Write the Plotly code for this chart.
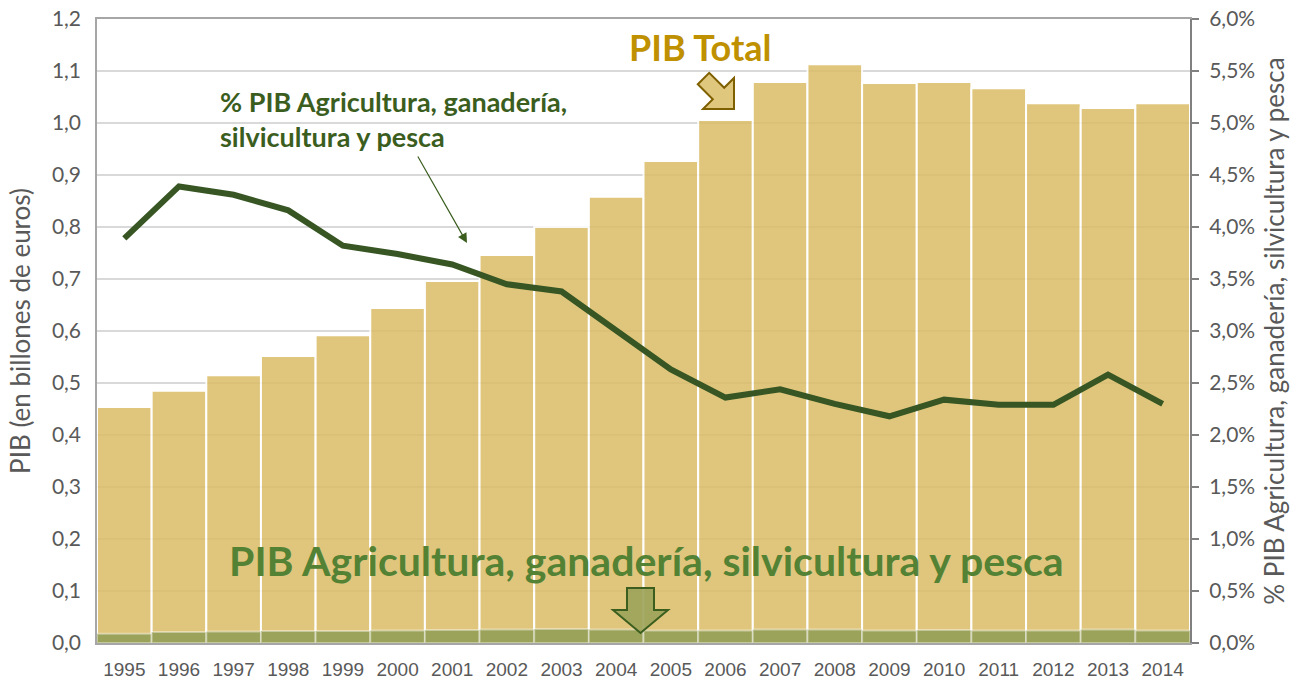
import plotly.graph_objects as go

years = list(range(1995, 2015))
pib_total = [0.454, 0.485, 0.515, 0.552, 0.592, 0.644, 0.696, 0.746, 0.800, 0.858,
             0.927, 1.006, 1.079, 1.113, 1.077, 1.079, 1.067, 1.038, 1.029, 1.038]
pib_agri = [0.018, 0.021, 0.022, 0.023, 0.023, 0.024, 0.025, 0.026, 0.027, 0.026,
            0.024, 0.024, 0.026, 0.026, 0.024, 0.025, 0.024, 0.024, 0.026, 0.024]
pct_agri = [0.0389, 0.0439, 0.0431, 0.0416, 0.0382, 0.0374, 0.0364, 0.0345, 0.0338, 0.0301,
            0.0263, 0.0236, 0.0244, 0.0230, 0.0218, 0.0234, 0.0229, 0.0229, 0.0258, 0.0230]
left_ticks = [i / 10 for i in range(13)]
right_ticks = [i * 0.005 for i in range(13)]

W, H = 1311, 686
L, R, T, B = 97, 1190, 19, 643   # target plot-area edges in window pixels
FONT = "Lato, Carlito, Open Sans"
GREY = "#595959"


def px(x, y):
    return ((x - L) / (R - L), (B - y) / (B - T))


def path(points):
    pts = [px(x, y) for x, y in points]
    return "M " + " L ".join(f"{a:.5f},{b:.5f}" for a, b in pts) + " Z"


def note(x, y, text, size, color, xanchor="center", align="center"):
    fx, fy = px(x, y)
    fig.add_annotation(xref="paper", yref="paper", x=fx, y=fy, xanchor=xanchor,
                       yanchor="middle", align=align, text=text, showarrow=False,
                       font=dict(family=FONT, size=size, color=color))


fig = go.Figure()
fig.add_trace(go.Bar(x=years, y=pib_total, width=1, name="PIB Total",
                     marker=dict(color="#DBBD67", line=dict(color="white", width=2)),
                     opacity=0.85))
fig.add_trace(go.Bar(x=years, y=pib_agri, width=1, name="PIB Agri",
                     marker=dict(color="#9BA35A", line=dict(color="rgba(255,255,255,0.4)", width=2))))
fig.add_trace(go.Scatter(x=years, y=pct_agri, yaxis="y2", mode="lines",
                         line=dict(color="#375623", width=6)))

# Block arrow for PIB Total (diagonal down-right)
fig.add_shape(type="path", xref="paper", yref="paper",
              path=path([(697.8, 84.2), (709.2, 72.8), (724.2, 87.8), (734, 78),
                         (734, 109), (703, 109), (712.8, 99.2)]),
              fillcolor="#E0C77E", line=dict(color="#7F6000", width=2))
# Block arrow down for agri
fig.add_shape(type="path", xref="paper", yref="paper",
              path=path([(627, 588), (654, 588), (654, 610), (668, 610), (640.5, 633),
                         (613, 610), (627, 610)]),
              fillcolor="rgba(155,163,90,0.9)", line=dict(color="#3B5E1F", width=2))

note(700, 47, "<b>PIB Total</b>", 36, "#BF9000")
note(218, 119, "<b>% PIB Agricultura, ganadería,<br>silvicultura y pesca</b>", 27,
     "#3B5E1F", xanchor="left", align="left")
note(646, 560, "<b>PIB Agricultura, ganadería, silvicultura y pesca</b>", 41, "#548235")

hx, hy = px(467, 243)
fig.add_annotation(xref="paper", yref="paper", x=hx, y=hy,
                   ax=417 - 467, ay=155 - 243, text="", showarrow=True,
                   arrowhead=2, arrowsize=1.6, arrowwidth=1.2, arrowcolor="#3B5E1F")

fig.update_layout(
    width=W, height=H, barmode="overlay", showlegend=False, separators=", ",
    margin=dict(l=L, r=W - R, t=T, b=H - B, autoexpand=False),
    plot_bgcolor="white", paper_bgcolor="white",
    xaxis=dict(range=[1994.5, 2014.5], tickmode="array", tickvals=years,
               ticktext=[str(y) for y in years], showgrid=False, automargin=False,
               showline=True, linecolor="#A6A6A6", linewidth=1.5, mirror=True,
               tickfont=dict(family="Liberation Sans, Arial", size=19, color=GREY),
               ticks="", ticklabelstandoff=8, ticklabeloverflow="allow"),
    yaxis=dict(range=[0, 1.2], tickvals=left_ticks, tickformat=".1f", automargin=False,
               showgrid=True, gridcolor="#D9D9D9", gridwidth=1.5,
               showline=True, linecolor="#A6A6A6", linewidth=1.5,
               zeroline=False, ticklabelstandoff=10, ticklabeloverflow="allow",
               tickfont=dict(family=FONT, size=21, color=GREY),
               title=dict(text="PIB (en billones de euros)", standoff=14,
                          font=dict(family=FONT, size=26, color=GREY))),
    yaxis2=dict(range=[0, 0.06], tickvals=right_ticks, tickformat=".1%", automargin=False,
                overlaying="y", side="right", showgrid=False, zeroline=False,
                showline=True, linecolor="#808080", linewidth=2,
                ticks="outside", ticklen=7, tickcolor="#808080", tickwidth=1.5,
                ticklabelstandoff=6, ticklabeloverflow="allow",
                tickfont=dict(family=FONT, size=21, color=GREY),
                title=dict(text="% PIB Agricultura, ganadería, silvicultura y pesca", standoff=12,
                           font=dict(family=FONT, size=26, color=GREY))),
)

fig.write_html("out.html", config={"displayModeBar": False},
               post_script="document.body.style.margin='0';document.body.style.overflow='hidden';")
